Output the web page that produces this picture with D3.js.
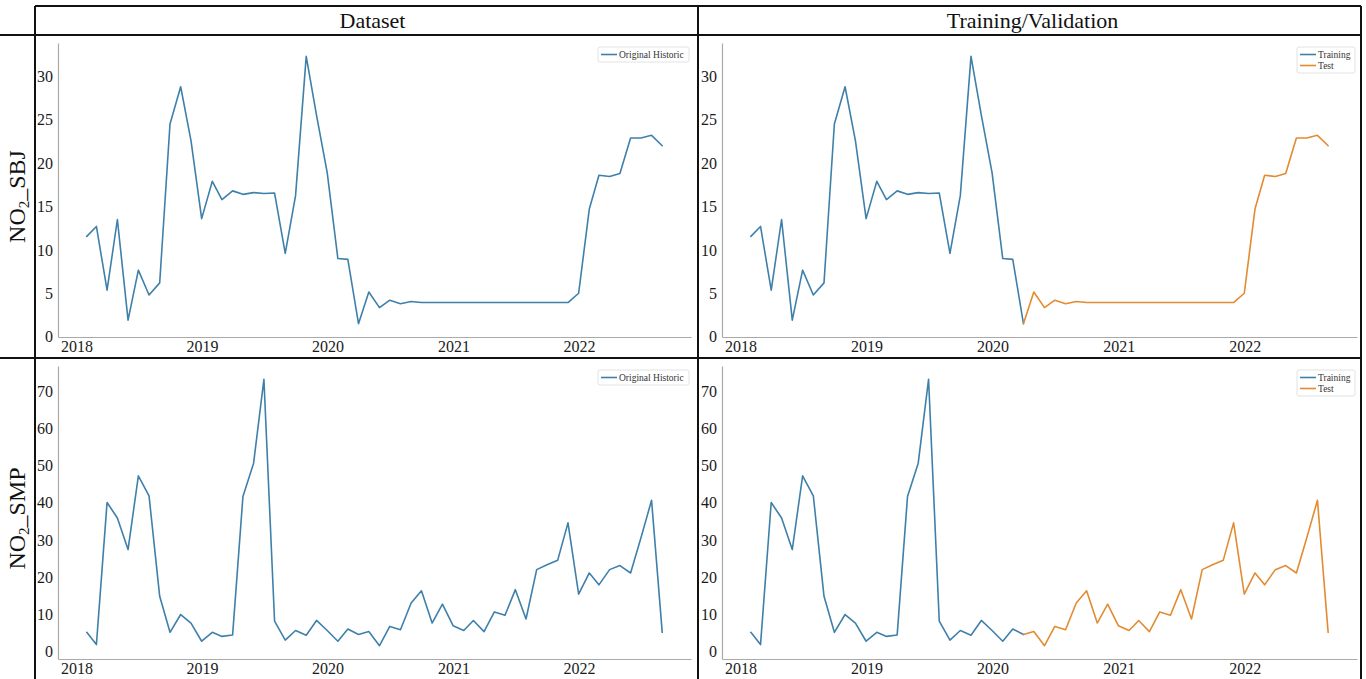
<!DOCTYPE html>
<html>
<head>
<meta charset="utf-8">
<script src="https://cdn.jsdelivr.net/npm/d3@7"></script>
<style>
  body { margin: 0; background: #fff; }
  svg { display: block; }
  svg text { font-family: 'Liberation Serif', 'Times New Roman', serif; }
</style>
</head>
<body>
<svg id="chart" width="1366" height="679"></svg>
<script>
// Monthly observation periods (values are stamped at month end)
const months = [
  "2018-01","2018-02","2018-03","2018-04","2018-05","2018-06","2018-07","2018-08","2018-09","2018-10","2018-11","2018-12",
  "2019-01","2019-02","2019-03","2019-04","2019-05","2019-06","2019-07","2019-08","2019-09","2019-10","2019-11","2019-12",
  "2020-01","2020-02","2020-03","2020-04","2020-05","2020-06","2020-07","2020-08","2020-09","2020-10","2020-11","2020-12",
  "2021-01","2021-02","2021-03","2021-04","2021-05","2021-06","2021-07","2021-08","2021-09","2021-10","2021-11","2021-12",
  "2022-01","2022-02","2022-03","2022-04","2022-05","2022-06","2022-07","2022-08"
];

// NO2 monthly concentration, station SBJ
const no2SBJ = [
  11.55, 12.7, 5.35, 13.5, 1.9, 7.66, 4.8, 6.2, 24.5, 28.8, 22.6, 13.6,
  17.9, 15.8, 16.8, 16.4, 16.6, 16.5, 16.55, 9.6, 16.25, 32.3, 25.5, 18.9,
  9.0, 8.9, 1.5, 5.15, 3.35, 4.2, 3.8, 4.05, 3.93, 3.93, 3.93, 3.93,
  3.93, 3.93, 3.93, 3.93, 3.93, 3.93, 3.93, 3.93, 3.93, 3.93, 3.93, 5.0,
  14.7, 18.6, 18.45, 18.8, 22.9, 22.9, 23.2, 22.0
];

// NO2 monthly concentration, station SMP
const no2SMP = [
  5.1, 1.8, 40.1, 35.9, 27.4, 47.3, 41.9, 14.8, 5.1, 9.9, 7.6, 2.7,
  5.1, 4.0, 4.4, 41.7, 50.7, 73.3, 8.1, 3.0, 5.6, 4.3, 8.3, 5.6,
  2.7, 6.0, 4.5, 5.3, 1.5, 6.7, 5.8, 13.0, 16.3, 7.6, 12.7, 6.9,
  5.6, 8.3, 5.3, 10.6, 9.7, 16.6, 8.7, 22.0, 23.3, 24.5, 34.6, 15.4,
  21.1, 17.9, 22.0, 23.1, 21.1, 30.5, 40.7, 5.1
];

// Index of the last training month; the test line starts from it
const trainEnd = 26;

const columnTitles = ["Dataset", "Training/Validation"];
const stationNames = ["SBJ", "SMP"];
const yTicksSBJ = [0, 5, 10, 15, 20, 25, 30];
const yTicksSMP = [0, 10, 20, 30, 40, 50, 60, 70];
const xTickYears = [2018, 2019, 2020, 2021, 2022];
const historicLegend = ["Original Historic"];
const splitLegend = ["Training", "Test"];

const BLUE = "#3f80ab";
const ORANGE = "#e38b32";
const SERIF = "'Liberation Serif', 'Times New Roman', serif";

const svg = d3.select("#chart");

// month-end dates
const dates = months.map(m => {
  const start = d3.utcParse("%Y-%m")(m);
  return d3.utcDay.offset(d3.utcMonth.offset(start, 1), -1);
});

// ---------- table frame ----------
const frame = { left: 35, mid: 698, right: 1361, top: 6, head: 35, rowMid: 358, bottom: 679 };
const fg = svg.append("g").attr("stroke", "#111").attr("stroke-width", 2).attr("fill", "none");
fg.append("line").attr("x1", frame.left).attr("x2", frame.right).attr("y1", frame.top).attr("y2", frame.top);
fg.append("line").attr("x1", 0).attr("x2", frame.right).attr("y1", frame.head).attr("y2", frame.head);
fg.append("line").attr("x1", 0).attr("x2", frame.right).attr("y1", frame.rowMid).attr("y2", frame.rowMid);
[frame.left, frame.mid, frame.right].forEach(x => {
  fg.append("line").attr("x1", x).attr("x2", x).attr("y1", frame.top).attr("y2", frame.bottom);
});

// column headers
const colCenters = [(frame.left + frame.mid) / 2 + 6, (frame.mid + frame.right) / 2 + 3];
columnTitles.forEach((t, i) => {
  svg.append("text")
    .attr("x", colCenters[i]).attr("y", 28)
    .attr("text-anchor", "middle")
    .style("font-family", SERIF).attr("font-size", 22).attr("fill", "#111")
    .text(t);
});

// row labels (NO2 with subscript)
const rowCenters = [(frame.head + frame.rowMid) / 2, (frame.rowMid + frame.bottom) / 2];
stationNames.forEach((s, i) => {
  const t = svg.append("text")
    .attr("transform", `translate(25,${rowCenters[i]}) rotate(-90)`)
    .attr("text-anchor", "middle")
    .style("font-family", SERIF).attr("font-size", 24).attr("fill", "#111");
  t.append("tspan").text("NO");
  t.append("tspan").attr("font-size", 15).attr("dy", 4).text("2");
  t.append("tspan").attr("dy", -4).text("_" + s);
});

// ---------- panels ----------
function drawPanel(box, values, yTicks, split) {
  const g = svg.append("g");
  const span = dates[dates.length - 1] - dates[0];
  const x = d3.scaleUtc()
    .domain([new Date(+dates[0] - span * 0.05), new Date(+dates[dates.length - 1] + span * 0.05)])
    .range([box.x, box.x + box.w]);
  const [vmin, vmax] = d3.extent(values);
  const pad = (vmax - vmin) * 0.05;
  const y = d3.scaleLinear().domain([vmin - pad, vmax + pad]).range([box.y + box.h, box.y]);

  const yAxis = g.append("g").attr("transform", `translate(${box.x},0)`)
    .call(d3.axisLeft(y).tickValues(yTicks).tickSize(0).tickSizeOuter(0).tickPadding(5));
  const xAxis = g.append("g").attr("transform", `translate(0,${box.y + box.h})`)
    .call(d3.axisBottom(x).tickValues(xTickYears.map(yr => new Date(Date.UTC(yr, 0, 1))))
      .tickFormat(d3.utcFormat("%Y")).tickSize(0).tickSizeOuter(0).tickPadding(4));
  [yAxis, xAxis].forEach(a => {
    a.attr("font-family", null);
    a.select(".domain").attr("stroke", "#aaa").attr("stroke-width", 1.2);
    a.selectAll("text").style("font-family", SERIF).attr("font-size", 16).attr("fill", "#1a1a1a");
  });

  const line = d3.line().x(d => x(d.date)).y(d => y(d.value));
  const pts = values.map((v, i) => ({ date: dates[i], value: v }));
  const lineStyle = sel => sel.attr("fill", "none").attr("stroke-width", 1.6)
    .attr("stroke-linejoin", "round").attr("stroke-linecap", "round");

  if (!split) {
    g.append("path").datum(pts).attr("d", line).attr("stroke", BLUE).call(lineStyle);
  } else {
    g.append("path").datum(pts.slice(0, trainEnd + 1)).attr("d", line).attr("stroke", BLUE).call(lineStyle);
    g.append("path").datum(pts.slice(trainEnd)).attr("d", line).attr("stroke", ORANGE).call(lineStyle);
  }

  // legend in the upper right corner
  const labels = split ? splitLegend : historicLegend;
  const colors = split ? [BLUE, ORANGE] : [BLUE];
  const lw = split ? 58 : 91;
  const rowH = 11;
  const lh = labels.length * rowH + 4;
  const lx = box.x + box.w - lw - 2;
  const ly = box.y + 4;
  const lg = g.append("g");
  lg.append("rect").attr("x", lx).attr("y", ly).attr("width", lw).attr("height", lh)
    .attr("rx", 2).attr("fill", "#fff").attr("stroke", "#e2e2e2").attr("stroke-width", 1);
  labels.forEach((lab, i) => {
    const cy = ly + 7.5 + i * rowH;
    lg.append("line").attr("x1", lx + 3).attr("x2", lx + 19).attr("y1", cy).attr("y2", cy)
      .attr("stroke", colors[i]).attr("stroke-width", 1.6);
    lg.append("text").attr("x", lx + 21).attr("y", cy + 3.2)
      .style("font-family", SERIF).attr("font-size", 9.5).attr("fill", "#333").text(lab);
  });
}

const boxes = [
  { x: 58, y: 43, w: 633, h: 294 },
  { x: 722, y: 43, w: 635, h: 294 },
  { x: 58, y: 366, w: 633, h: 293 },
  { x: 722, y: 366, w: 635, h: 293 }
];
drawPanel(boxes[0], no2SBJ, yTicksSBJ, false);
drawPanel(boxes[1], no2SBJ, yTicksSBJ, true);
drawPanel(boxes[2], no2SMP, yTicksSMP, false);
drawPanel(boxes[3], no2SMP, yTicksSMP, true);
</script>
</body>
</html>
